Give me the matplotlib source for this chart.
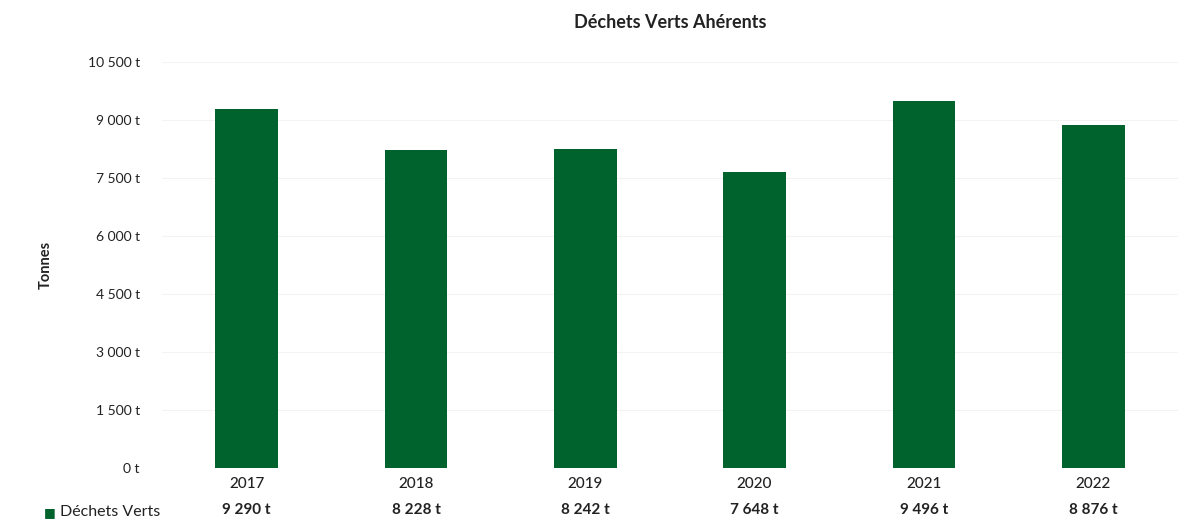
import matplotlib.pyplot as plt
from matplotlib.ticker import FuncFormatter, MultipleLocator
import matplotlib.transforms as mtransforms

plt.rcParams['font.family'] = ['Lato', 'DejaVu Sans']

years = ['2017', '2018', '2019', '2020', '2021', '2022']
tonnes = [9290, 8228, 8242, 7648, 9496, 8876]
series_name = 'Déchets Verts'
title = 'Déchets Verts Ahérents'

bar_color = '#00622d'
text_color = '#222222'


def fmt_t(v, pos=None):
    return f'{int(v):,} t'.replace(',', ' ')


fig = plt.figure(figsize=(11.91, 5.28), dpi=100)
ax = fig.add_axes([0.136, 0.114, 0.853, 0.769])

x = range(len(years))
ax.bar(x, tonnes, width=0.37, color=bar_color, zorder=3)

ax.set_xlim(-0.5, len(years) - 0.5)
ax.set_ylim(0, 10500)
ax.yaxis.set_major_locator(MultipleLocator(1500))
ax.yaxis.set_major_formatter(FuncFormatter(fmt_t))
ax.grid(axis='y', color='#f3f3f3', linewidth=0.8, zorder=0)
ax.tick_params(axis='y', length=0, pad=16, labelsize=10, labelcolor=text_color)
ax.set_xticks([])
for s in ax.spines.values():
    s.set_visible(False)

ax.set_ylabel('Tonnes', fontsize=10.5, fontweight='bold', color=text_color)
ax.yaxis.set_label_coords(-0.108, 0.5)
ax.set_title(title, fontsize=13, fontweight='bold', color=text_color, pad=24)

# data table under the axis
trans = mtransforms.blended_transform_factory(ax.transData, ax.transAxes)
for i, (yr, v) in enumerate(zip(years, tonnes)):
    ax.text(i, -0.04, yr, transform=trans, ha='center', va='center',
            fontsize=11, fontweight='medium', color=text_color)
    ax.text(i, -0.105, fmt_t(v), transform=trans, ha='center', va='center',
            fontsize=11, fontweight='bold', color=text_color)

fig.text(0.042, 0.03, '■', color=bar_color, fontsize=9, ha='center', va='center',
         family='DejaVu Sans')
fig.text(0.05, 0.03, series_name, color=text_color, fontsize=11.5, ha='left', va='center')

fig.savefig('out.png', dpi=100, facecolor='white')
